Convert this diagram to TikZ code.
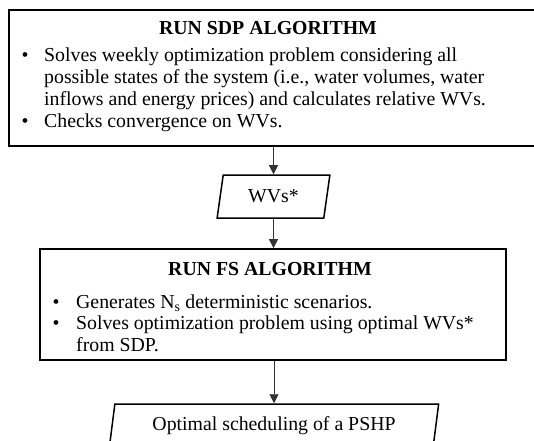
\documentclass[tikz,border=0pt]{standalone}
\usepackage{fontspec}
\setmainfont{Liberation Serif}
\usetikzlibrary{positioning,arrows.meta,shapes.geometric}

\begin{document}
\begin{tikzpicture}[
  x=1pt, y=1pt,
  font=\fontsize{19.8}{21.8}\selectfont,
  box/.style={draw, line width=1.7pt, inner sep=0pt},
  io/.style={draw, line width=1.5pt, trapezium, trapezium left angle=77, trapezium right angle=103,
    trapezium stretches=true, inner sep=0pt, minimum height=43pt},
  ttl/.style={anchor=base, font=\fontsize{19.8}{21.8}\selectfont\bfseries, inner sep=0pt},
  lst/.style={anchor=base west, inner sep=0pt},
  arr/.style={-{Triangle[length=9pt, width=9pt]}, line width=0.8pt, draw=black!80}]

\clip (0,0) rectangle (534,440);

% SDP stage
\node[box, minimum width=536pt, minimum height=136pt] (sdp) at (277,362) {};
\node[ttl] (sdpttl) at (268,405) {RUN SDP ALGORITHM};
\node[lst] (sdplst) at (21.5,378) {\begin{tabular}[t]{@{}p{22.5pt}@{}l@{}}
\textbullet & Solves weekly optimization problem considering all\\
 & possible states of the system (i.e., water volumes, water\\
 & inflows and energy prices) and calculates relative WVs.\\
\textbullet & Checks convergence on WVs.
\end{tabular}};

\node[io, minimum width=113pt] (wvs) at (273.5,243.5) {WVs*};

% FS stage
\node[box, minimum width=466pt, minimum height=111pt] (fs) at (273,135.5) {};
\node[ttl] (fsttl) at (270,165) {RUN FS ALGORITHM};
\node[lst] (fslst) at (52.5,132) {\begin{tabular}[t]{@{}p{23.5pt}@{}l@{}}
\textbullet & Generates N\textsubscript{s} deterministic scenarios.\\
\textbullet & Solves optimization problem using optimal WVs*\\
 & from SDP.
\end{tabular}};

\node[io, minimum width=330pt] (out) at (274,14.5) {Optimal scheduling of a PSHP};

\draw[arr] (sdp.south -| wvs.north) -- (wvs.north);
\draw[arr] (wvs.south) -- (wvs.south |- fs.north);
\draw[arr] (fs.south -| out.north) -- (out.north);
\end{tikzpicture}
\end{document}
